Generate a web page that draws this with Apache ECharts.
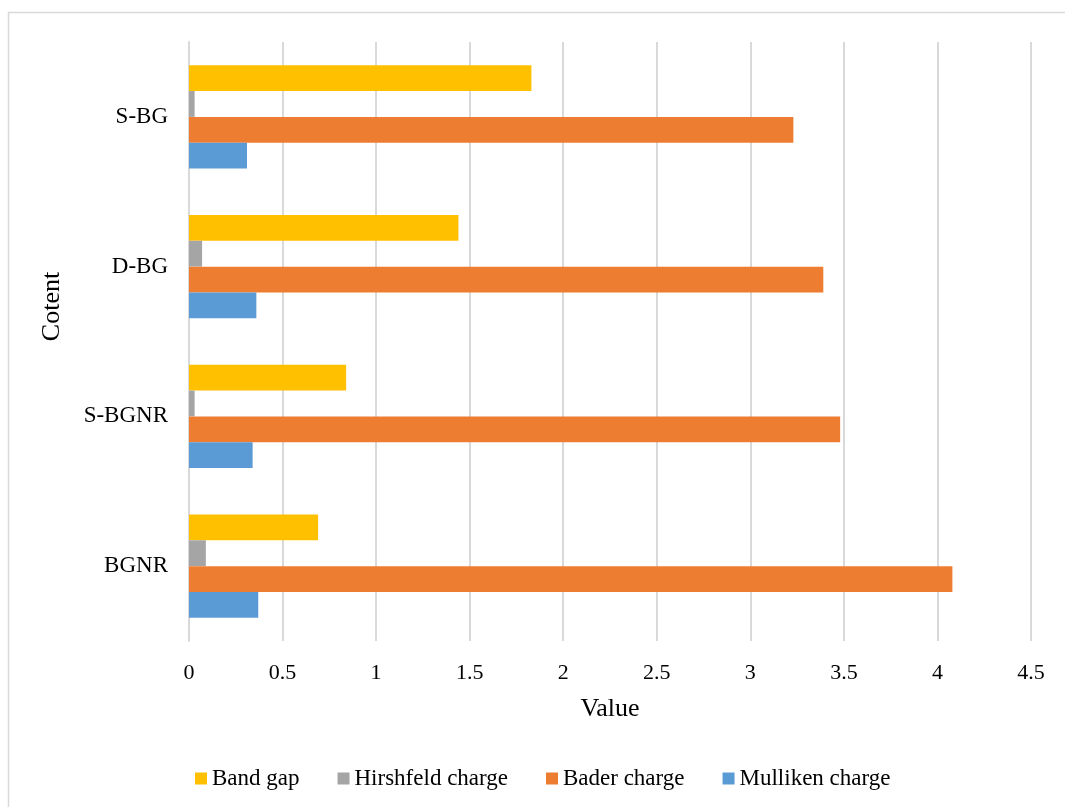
<!DOCTYPE html>
<html>
<head>
<meta charset="utf-8">
<script src="https://cdn.jsdelivr.net/npm/echarts@6/dist/echarts.min.js"></script>
<style>
  html, body { margin: 0; padding: 0; background: #fff; }
  #chart { width: 1065px; height: 807px; }
</style>
</head>
<body>
<div id="chart"></div>
<script>
    // categories from bottom to top
    const categories = ['BGNR', 'S-BGNR', 'D-BG', 'S-BG'];
    const bandGap = [0.69, 0.84, 1.44, 1.83];
    const hirshfeld = [0.09, 0.03, 0.07, 0.03];
    const bader = [4.08, 3.48, 3.39, 3.23];
    const mulliken = [0.37, 0.34, 0.36, 0.31];
    const colors = ['#ffc000', '#a5a5a5', '#ed7d31', '#5b9bd5'];

    const font = 'Liberation Serif';
    const chart = echarts.init(document.getElementById('chart'));

    let options = {
        color: colors,
        animation: false,
        textStyle: {fontFamily: font},
        graphic: [{
            type: 'rect',
            shape: {x: 8.5, y: 12.5, width: 1060, height: 800},
            style: {fill: 'none', stroke: '#d9d9d9', lineWidth: 1.5},
            silent: true
        }],
        grid: {
            left: 189,
            right: 34,
            top: 42,
            bottom: 166
        },
        legend: {
            bottom: 12,
            left: 190,
            itemWidth: 12,
            itemHeight: 12,
            itemGap: 38,
            icon: 'rect',
            textStyle: {fontFamily: font, fontSize: 23, color: '#000'},
            data: ['Band gap', 'Hirshfeld charge', 'Bader charge', 'Mulliken charge']
        },
        xAxis: {
            type: 'value',
            min: 0,
            max: 4.5,
            interval: 0.5,
            name: 'Value',
            nameLocation: 'middle',
            nameGap: 55,
            nameTextStyle: {fontFamily: font, fontSize: 26, color: '#000'},
            axisLine: {show: false},
            axisTick: {show: false},
            axisLabel: {fontFamily: font, fontSize: 22, color: '#000', margin: 21},
            splitLine: {lineStyle: {color: '#d9d9d9', width: 2}}
        },
        yAxis: {
            type: 'category',
            data: categories,
            name: 'Cotent',
            nameLocation: 'middle',
            nameGap: 124,
            nameRotate: 90,
            nameTextStyle: {fontFamily: font, fontSize: 26, color: '#000', padding: [0, 0, 0, 70]},
            axisLine: {lineStyle: {color: '#d9d9d9', width: 2}},
            axisTick: {show: false},
            axisLabel: {fontFamily: font, fontSize: 23, color: '#000', margin: 21}
        },
        series: [
            {name: 'Band gap', type: 'bar', data: bandGap, barGap: '0%', barCategoryGap: '31%'},
            {name: 'Hirshfeld charge', type: 'bar', data: hirshfeld, barGap: '0%', barCategoryGap: '31%'},
            {name: 'Bader charge', type: 'bar', data: bader, barGap: '0%', barCategoryGap: '31%'},
            {name: 'Mulliken charge', type: 'bar', data: mulliken, barGap: '0%', barCategoryGap: '31%'}
        ]
    };
    chart.setOption(options, true);
</script>
</body>
</html>
